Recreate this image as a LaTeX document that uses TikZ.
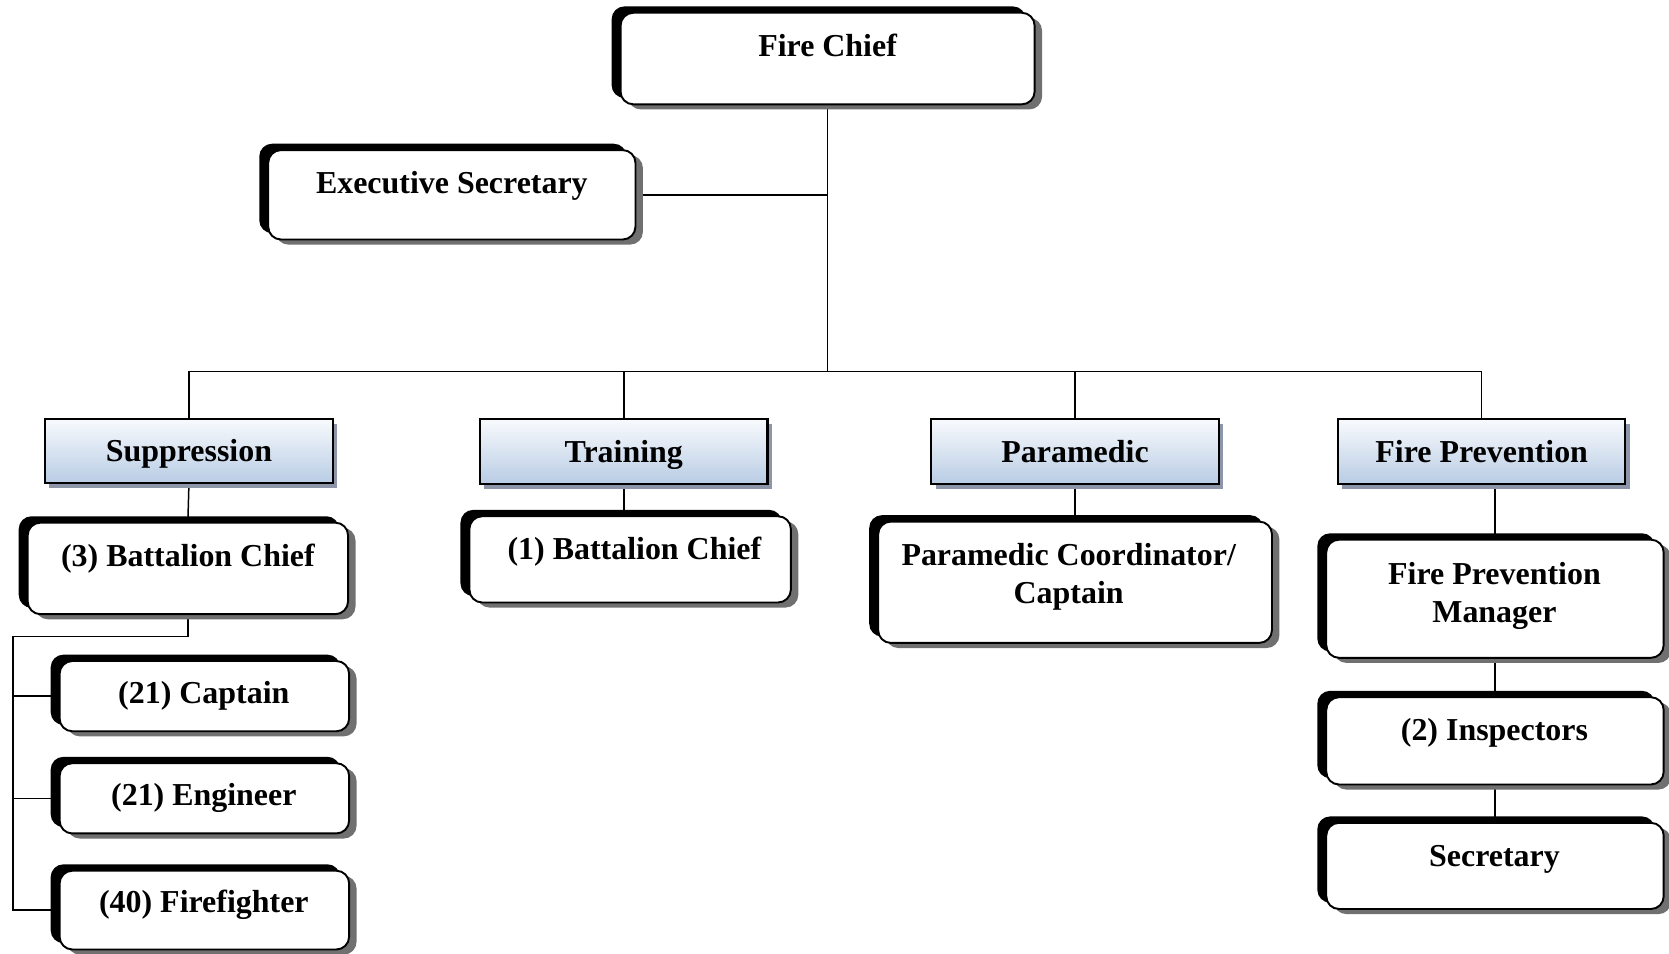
\documentclass[tikz,border=0pt]{standalone}
\usepackage{fontspec}
\setmainfont{Liberation Serif}
\usetikzlibrary{shadows,backgrounds}
\definecolor{catTop}{RGB}{248,250,253}
\definecolor{catBottom}{RGB}{184,204,228}
\definecolor{catShade}{RGB}{140,150,168}
\definecolor{boxShade}{RGB}{112,112,112}
\begin{document}
\begin{tikzpicture}[x=0.5pt,y=-0.5pt,
  txt/.style={font=\fontsize{15}{18}\selectfont\bfseries, align=center, inner sep=0pt},
  post/.style={draw=black, line width=0.9pt, fill=white, rounded corners=6pt, inner sep=0pt,
    general shadow={fill=boxShade, shadow xshift=3.5pt, shadow yshift=-2.4pt},
    general shadow={fill=black, shadow xshift=-4.2pt, shadow yshift=3pt}},
  unit/.style={draw=black, line width=1pt, top color=catTop, bottom color=catBottom,
    inner sep=0pt, text height=11pt, text depth=1pt,
    font=\fontsize{15}{18}\selectfont\bfseries,
    general shadow={fill=catShade, shadow xshift=2pt, shadow yshift=-2pt}},
  conn/.style={draw=black, line width=0.7pt}]
\useasboundingbox (0,0) rectangle (1568,896);

% chief and staff
\node[post, minimum width=194.5pt, minimum height=43pt] (fc) at (777.5,55) {};
\node[txt, anchor=base] (fct) at (777.5,53) {Fire Chief};
\node[post, minimum width=172.5pt, minimum height=42pt] (es) at (424.5,183) {};
\node[txt, anchor=base] (est) at (424.5,182) {Executive Secretary};

% divisions
\node[unit, minimum width=135.5pt, minimum height=30pt] (sup) at (177.5,424) {Suppression};
\node[unit, minimum width=135pt, minimum height=30.5pt] (trn) at (586,424.5) {Training};
\node[unit, minimum width=135pt, minimum height=30.5pt] (par) at (1010,424.5) {Paramedic};
\node[unit, minimum width=135pt, minimum height=30.5pt] (fp) at (1392,424.5) {Fire Prevention};

% suppression staff
\node[post, minimum width=150.5pt, minimum height=43pt] (bc3) at (176.5,534) {};
\node[txt, anchor=base] (bc3t) at (176.5,532) {(3) Battalion Chief};
\node[post, minimum width=136pt, minimum height=33pt] (cap) at (192,654) {};
\node[txt, anchor=base] (capt) at (191.5,661) {(21) Captain};
\node[post, minimum width=136pt, minimum height=33pt] (eng) at (192,750) {};
\node[txt, anchor=base] (engt) at (191.5,757) {(21) Engineer};
\node[post, minimum width=136pt, minimum height=37pt] (ff) at (192,855) {};
\node[txt, anchor=base] (fft) at (191.5,857) {(40) Firefighter};

% training staff
\node[post, minimum width=151pt, minimum height=40.5pt] (bc1) at (592,525.5) {};
\node[txt, anchor=base] (bc1t) at (596,526) {(1) Battalion Chief};

% paramedic staff (base anchor sits on the last line)
\node[post, minimum width=185pt, minimum height=57pt] (pc) at (1010,547) {};
\node[txt, anchor=base] (pct) at (1004,567) {Paramedic Coordinator/\\Captain};

% fire prevention staff
\node[post, minimum width=158.5pt, minimum height=55.5pt] (fpm) at (1404.5,562.5) {};
\node[txt, anchor=base] (fpmt) at (1404,585) {Fire Prevention\\Manager};
\node[post, minimum width=158.5pt, minimum height=41pt] (insp) at (1404.5,696) {};
\node[txt, anchor=base] (inspt) at (1404,696) {(2) Inspectors};
\node[post, minimum width=158.5pt, minimum height=40.5pt] (sec) at (1404.5,813.5) {};
\node[txt, anchor=base] (sect) at (1404,814) {Secretary};

% connectors
\begin{scope}[on background layer]
  \coordinate (hub) at (777.5,349);
  \coordinate (elbow) at (12,598);
  \draw[conn] (fc.south) -- (hub);
  \draw[conn] (es.east) -- (es.east -| fc.south);
  \draw[conn] (sup.north) -- (sup.north |- hub) -- (fp.north |- hub) -- (fp.north);
  \draw[conn] (trn.north) -- (trn.north |- hub);
  \draw[conn] (par.north) -- (par.north |- hub);
  \draw[conn] (sup.south) -- (bc3.north);
  \draw[conn] (trn.south) -- (trn.south |- bc1.north);
  \draw[conn] (par.south) -- (pc.north);
  \draw[conn] (fpm.north) -- (fpm.north |- fp.south);
  \draw[conn] (fpm.south) -- (insp.north);
  \draw[conn] (insp.south) -- (sec.north);
  \draw[conn] (bc3.south) -- (bc3.south |- elbow) -- (elbow) -- (elbow |- ff.west) -- (ff.west);
  \draw[conn] (elbow |- cap.west) -- (cap.west);
  \draw[conn] (elbow |- eng.west) -- (eng.west);
\end{scope}
\end{tikzpicture}
\end{document}
